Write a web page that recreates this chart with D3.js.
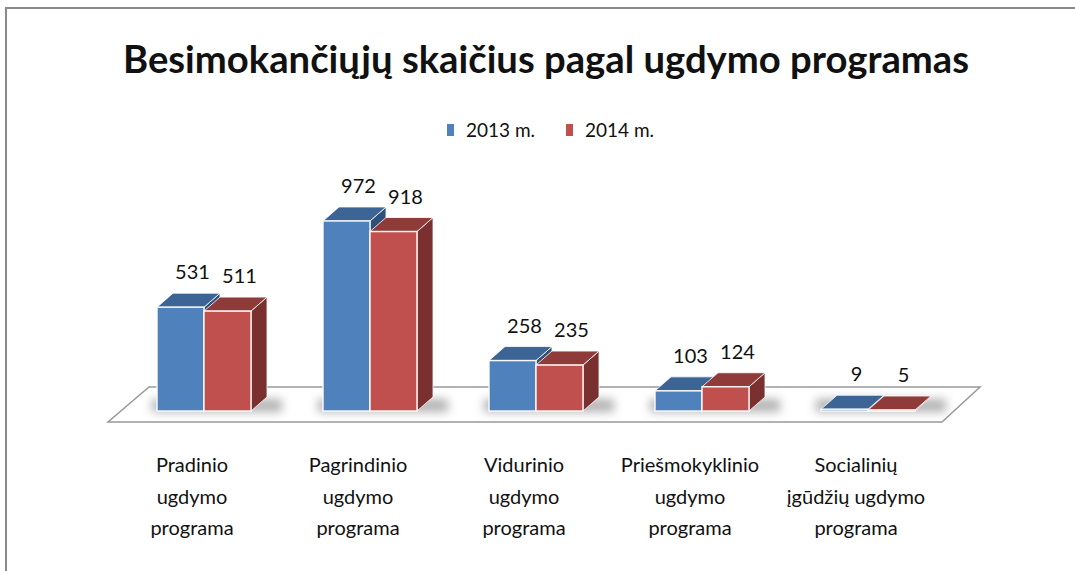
<!DOCTYPE html>
<html>
<head>
<meta charset="utf-8">
<script src="https://cdnjs.cloudflare.com/ajax/libs/d3/7.8.5/d3.min.js"></script>
<style>
  html, body { margin: 0; background: #fff; overflow: hidden; }
  svg { display: block; }
  text { font-family: Lato, "Open Sans", sans-serif; fill: #111; }
</style>
</head>
<body>
<svg id="chart" width="1075" height="571"></svg>
<script>
// chart data
const title = 'Besimokančiųjų skaičius pagal ugdymo programas';
const categories = ['Pradinio', 'Pagrindinio', 'Vidurinio', 'Priešmokyklinio', 'Socialinių'];
const categoryLines = [
  ['Pradinio', 'ugdymo', 'programa'],
  ['Pagrindinio', 'ugdymo', 'programa'],
  ['Vidurinio', 'ugdymo', 'programa'],
  ['Priešmokyklinio', 'ugdymo', 'programa'],
  ['Socialinių', 'įgūdžių ugdymo', 'programa']
];
const seriesNames = ['2013 m.', '2014 m.'];
const values2013 = [531, 972, 258, 103, 9];
const values2014 = [511, 918, 235, 124, 5];

const colors = {
  '2013 m.': { front: '#4f81bd', top: '#3c6494', side: '#2f5079' },
  '2014 m.': { front: '#c0504d', top: '#8f3b39', side: '#7a302e' }
};

const svg = d3.select('#chart');

// frame (only top and left edges are inside the picture)
svg.append('rect')
  .attr('x', 6).attr('y', 8)
  .attr('width', 1100).attr('height', 600)
  .attr('fill', 'none')
  .attr('stroke', '#8a8a8a')
  .attr('stroke-width', 2);

// title
svg.append('text')
  .attr('x', 546).attr('y', 73)
  .attr('text-anchor', 'middle')
  .attr('font-size', 38)
  .attr('font-weight', 'bold')
  .attr('textLength', 846)
  .attr('lengthAdjust', 'spacingAndGlyphs')
  .text(title);

// legend
const legendX = [447, 566];
seriesNames.forEach((s, i) => {
  svg.append('rect')
    .attr('x', legendX[i]).attr('y', 124)
    .attr('width', 7).attr('height', 12)
    .attr('fill', colors[s].front);
  svg.append('text')
    .attr('x', legendX[i] + 19).attr('y', 137)
    .attr('font-size', 19)
    .text(s);
});

// scales
const x0 = d3.scaleBand().domain(categories).range([121, 951]);
const x1 = d3.scaleBand().domain(seriesNames).range([0, 94]);
const h = d3.scaleLinear().domain([0, 1000]).range([0, 195.5]);

const baseY = 411;      // front bottom of bars
const dep = { x: 16, y: -14 };  // bar depth offset

// floor
const floorFront = 422, floorBack = 387;
const floor = [[108, floorFront], [942, floorFront], [980, floorBack], [149, floorBack]];
svg.append('path')
  .attr('d', d3.line()(floor) + 'Z')
  .attr('fill', '#fff')
  .attr('stroke', '#999')
  .attr('stroke-width', 1.5);

// shadows
const defs = svg.append('defs');
const blur = defs.append('filter').attr('id', 'shadow')
  .attr('x', '-50%').attr('y', '-100%').attr('width', '200%').attr('height', '300%');
blur.append('feGaussianBlur').attr('stdDeviation', 5);

svg.append('g').selectAll('rect')
  .data(categories)
  .join('rect')
  .attr('x', d => x0(d) + x0.bandwidth() / 2 - 52)
  .attr('y', baseY - 12)
  .attr('width', 130)
  .attr('height', 13)
  .attr('fill', '#9a9a9a')
  .attr('opacity', 0.75)
  .attr('filter', 'url(#shadow)');

// bars
const barData = [];
categories.forEach((c, i) => {
  barData.push({ cat: c, s: seriesNames[0], v: values2013[i] });
  barData.push({ cat: c, s: seriesNames[1], v: values2014[i] });
});

const gx = d => x0(d.cat) + x0.bandwidth() / 2 - 47 + x1(d.s);
const bw = x1.bandwidth();

const bars = svg.append('g').selectAll('g')
  .data(barData)
  .join('g');

// side face
bars.append('path')
  .attr('d', d => {
    const l = gx(d) + bw, t = baseY - h(d.v);
    return d3.line()([[l, t], [l + dep.x, t + dep.y], [l + dep.x, baseY + dep.y], [l, baseY]]) + 'Z';
  })
  .attr('fill', d => colors[d.s].side)
  .attr('stroke', 'rgba(255,255,255,0.8)')
  .attr('stroke-width', 1);

// top face
bars.append('path')
  .attr('d', d => {
    const l = gx(d), t = baseY - h(d.v);
    return d3.line()([[l, t], [l + bw, t], [l + bw + dep.x, t + dep.y], [l + dep.x, t + dep.y]]) + 'Z';
  })
  .attr('fill', d => colors[d.s].top)
  .attr('stroke', 'rgba(255,255,255,0.8)')
  .attr('stroke-width', 1);

// front face
bars.append('rect')
  .attr('x', d => gx(d))
  .attr('y', d => baseY - h(d.v))
  .attr('width', bw)
  .attr('height', d => h(d.v))
  .attr('fill', d => colors[d.s].front)
  .attr('stroke', 'rgba(255,255,255,0.9)')
  .attr('stroke-width', 1.5);

// value labels
svg.append('g').selectAll('text')
  .data(barData)
  .join('text')
  .attr('x', d => gx(d) + bw / 2 + 12)
  .attr('y', d => baseY - h(d.v) - 28)
  .attr('text-anchor', 'middle')
  .attr('font-size', 20)
  .text(d => d.v);

// category labels
const catG = svg.append('g').selectAll('text')
  .data(categories)
  .join('text')
  .attr('x', d => x0(d) + x0.bandwidth() / 2 - 12)
  .attr('y', 472)
  .attr('text-anchor', 'middle')
  .attr('font-size', 20);

catG.selectAll('tspan')
  .data((d, i) => categoryLines[i])
  .join('tspan')
  .attr('x', function () { return d3.select(this.parentNode).attr('x'); })
  .attr('dy', (d, i) => i === 0 ? 0 : 31.5)
  .text(d => d);
</script>
</body>
</html>
